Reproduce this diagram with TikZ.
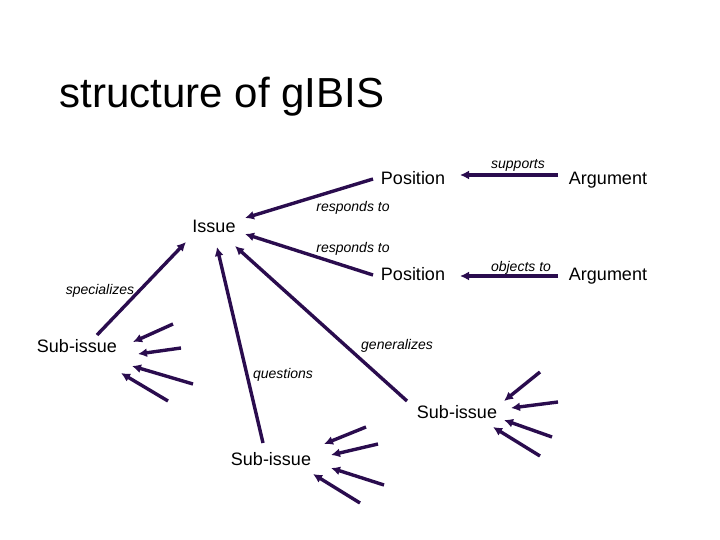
\documentclass[tikz,border=0pt]{standalone}
\usepackage{fontspec}
\setmainfont{Liberation Sans}
\usetikzlibrary{arrows.meta}
\definecolor{linkc}{RGB}{42,12,78}
\begin{document}
\begin{tikzpicture}[x=1pt,y=-1pt,
  lbl/.style={inner sep=0pt,text height=0.72em,text depth=0pt,font=\fontsize{18}{20}\selectfont},
  rel/.style={inner sep=0pt,text height=0.72em,text depth=0pt,font=\fontsize{14}{16}\selectfont\itshape},
  link/.style={draw=linkc,line width=3.4pt,-{Latex[length=9pt,width=9pt]}}]
\useasboundingbox[fill=white] (0,0) rectangle (720,540);
\node[inner sep=0pt,text height=0.72em,text depth=0pt,font=\fontsize{42}{44}\selectfont] (title) at (222,104) {structure of gIBIS};
% main nodes
\node[lbl] (pos1) at (413,181) {Position};
\node[lbl] (arg1) at (608,181) {Argument};
\node[lbl] (issue) at (214,229) {Issue};
\node[lbl] (pos2) at (413,277) {Position};
\node[lbl] (arg2) at (608,277) {Argument};
\node[lbl] (subL) at (77,349) {Sub-issue};
\node[lbl] (subR) at (457,415) {Sub-issue};
\node[lbl] (subB) at (271,462) {Sub-issue};
% relation labels
\node[rel] (lsup) at (518,165) {supports};
\node[rel] (lobj) at (521,268) {objects to};
\node[rel] (lr1) at (353,208) {responds to};
\node[rel] (lr2) at (353,249) {responds to};
\node[rel] (lspec) at (100,291) {specializes};
\node[rel] (lques) at (283,375) {questions};
\node[rel] (lgen) at (397,346) {generalizes};
% connector endpoints
\coordinate (a1s) at (558,175); \coordinate (a1e) at (460,175);
\coordinate (a2s) at (558,276); \coordinate (a2e) at (460,276);
\coordinate (p1s) at (373,179); \coordinate (p1e) at (245,218);
\coordinate (p2s) at (373,275); \coordinate (p2e) at (245,234);
\coordinate (ss) at (97,335); \coordinate (se) at (186,242);
\coordinate (qs) at (263,443); \coordinate (qe) at (217,247);
\coordinate (gs) at (407,401); \coordinate (ge) at (235,246);
\draw[link] (a1s) -- (a1e);
\draw[link] (a2s) -- (a2e);
\draw[link] (p1s) -- (p1e);
\draw[link] (p2s) -- (p2e);
\draw[link] (ss) -- (se);
\draw[link] (qs) -- (qe);
\draw[link] (gs) -- (ge);
% fan arrows into Sub-issue (left)
\coordinate (l1s) at (173,324); \coordinate (l1e) at (133,342);
\coordinate (l2s) at (181,348); \coordinate (l2e) at (138,354);
\coordinate (l3s) at (193,384); \coordinate (l3e) at (132,366);
\coordinate (l4s) at (168,401); \coordinate (l4e) at (121,373);
\draw[link] (l1s) -- (l1e);
\draw[link] (l2s) -- (l2e);
\draw[link] (l3s) -- (l3e);
\draw[link] (l4s) -- (l4e);
% fan arrows into Sub-issue (right)
\coordinate (r1s) at (540,372); \coordinate (r1e) at (504,401);
\coordinate (r2s) at (558,402); \coordinate (r2e) at (511,408);
\coordinate (r3s) at (552,437); \coordinate (r3e) at (504,420);
\coordinate (r4s) at (540,456); \coordinate (r4e) at (493,427);
\draw[link] (r1s) -- (r1e);
\draw[link] (r2s) -- (r2e);
\draw[link] (r3s) -- (r3e);
\draw[link] (r4s) -- (r4e);
% fan arrows into Sub-issue (bottom)
\coordinate (b1s) at (366,427); \coordinate (b1e) at (324,444);
\coordinate (b2s) at (378,444); \coordinate (b2e) at (331,455);
\coordinate (b3s) at (384,485); \coordinate (b3e) at (331,468);
\coordinate (b4s) at (360,503); \coordinate (b4e) at (313,474);
\draw[link] (b1s) -- (b1e);
\draw[link] (b2s) -- (b2e);
\draw[link] (b3s) -- (b3e);
\draw[link] (b4s) -- (b4e);
\end{tikzpicture}
\end{document}
